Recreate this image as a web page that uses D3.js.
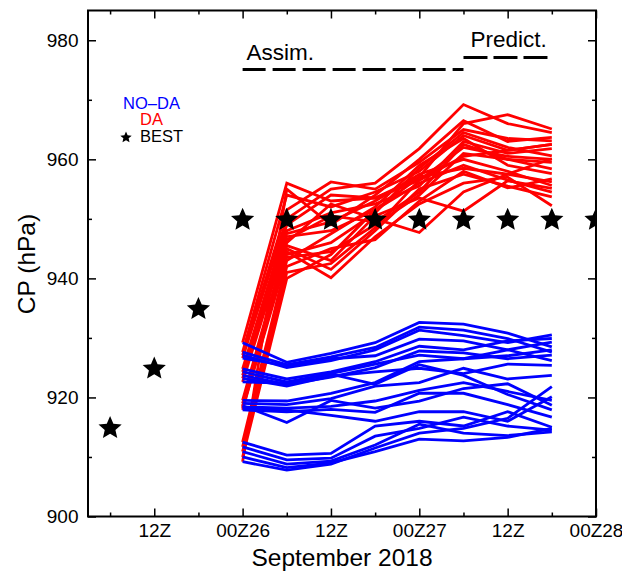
<!DOCTYPE html>
<html><head><meta charset="utf-8">
<script src="https://cdn.jsdelivr.net/npm/d3@7"></script>
<style>body{margin:0;background:#fff} text{font-family:"Liberation Sans",Arial,Helvetica,sans-serif}</style>
</head><body><svg id="c" width="622" height="571"></svg>
<script>
// hours since 2018-09-25 00Z
const bestHours  = [6,12,18,24,30,36,42,48,54,60,66,72];
const bestValues = [915,925,935,950,950,950,950,950,950,950,950,950];
const memberHours = [24,30,36,42,48,54,60,66];
const noDA = [
 [929.2,925.9,927.4,929.2,932.6,932.3,930.8,928.5],
 [927.6,925.5,926.8,928.4,931.8,931.3,929.9,927.6],
 [927.1,925.0,926.2,928.0,931.3,930.4,929.2,930.5],
 [926.6,925.3,926.5,927.0,929.8,929.5,928.0,926.2],
 [924.8,923.1,924.3,926.0,928.6,928.0,929.5,929.9],
 [924.3,922.6,924.0,925.6,927.1,926.5,928.0,929.3],
 [923.7,922.2,923.4,925.0,927.8,927.5,926.5,927.1],
 [923.2,921.9,923.6,924.3,924.9,924.0,925.6,925.4],
 [922.6,922.4,923.9,922.2,925.5,923.7,920.5,917.9],
 [919.5,919.4,920.7,922.5,926.0,926.5,927.0,928.0],
 [919.0,918.8,919.8,921.9,922.5,924.9,923.1,923.7],
 [918.4,918.2,918.5,919.4,921.2,922.5,921.0,919.5],
 [917.9,917.6,918.0,917.5,920.7,920.7,918.8,916.7],
 [918.6,915.8,919.5,918.2,919.4,921.5,922.3,918.7],
 [918.2,917.9,917.0,916.0,917.6,917.6,916.0,920.1],
 [912.5,910.3,910.6,915.2,916.0,915.2,917.6,915.0],
 [911.7,909.5,909.8,913.5,914.8,916.7,915.2,914.5],
 [910.9,908.8,909.3,912.0,915.5,914.0,913.6,914.2],
 [910.0,908.2,909.0,910.9,913.0,912.7,913.3,914.8],
 [909.2,907.8,908.8,911.5,914.0,914.8,916.5,921.8]
];
const DA = [
 [929.2,956.0,953.0,953.5,956.5,962.0,960.5,960.0],
 [927.6,954.0,952.0,954.5,958.0,964.0,961.5,962.5],
 [927.1,951.5,956.2,955.0,959.5,965.0,963.5,963.1],
 [926.6,950.0,955.0,956.0,961.8,969.2,966.0,964.5],
 [924.8,949.0,954.0,953.5,957.0,966.0,967.5,965.1],
 [924.3,948.0,951.0,952.5,955.5,963.0,961.0,961.8],
 [923.7,947.5,949.5,953.0,957.5,960.0,958.0,955.6],
 [923.2,947.0,948.0,951.5,956.0,959.0,956.5,954.5],
 [922.6,946.5,950.5,949.5,954.5,962.5,960.0,958.4],
 [919.5,946.0,952.5,950.0,947.7,954.5,957.5,956.2],
 [919.0,945.5,943.0,950.5,953.5,951.3,956.4,955.1],
 [918.4,945.0,941.5,948.0,955.0,957.5,955.5,953.7],
 [917.9,944.5,940.1,947.0,952.5,956.0,957.0,952.2],
 [918.6,944.0,946.0,951.0,958.5,964.5,962.0,960.6],
 [918.2,943.5,944.5,949.0,954.0,961.0,960.0,959.5],
 [912.5,943.0,947.5,952.0,959.0,963.5,959.0,957.6],
 [911.7,942.0,945.0,946.5,953.0,958.0,955.2,956.7],
 [910.9,941.0,942.5,948.5,956.5,960.5,961.5,962.5],
 [910.0,940.0,944.0,951.5,957.0,958.5,957.5,960.1],
 [909.2,955.0,949.0,954.0,960.0,966.5,963.0,963.7]
];
const yTicks = [900,920,940,960,980];
const yMinor = [910,930,950,970];
const phases = [{label:"Assim.", from:24, to:54}, {label:"Predict.", from:54, to:66}];
const legendItems = ["NO\u2013DA","DA","BEST"];

const toDate = h => new Date(Date.UTC(2018,8,25) + h*3600e3);
const L=88, R=596, T=10.5, B=516.5;
const svg = d3.select("#c");
const x = d3.scaleUtc().domain([toDate(3), toDate(72)]).range([L,R]);
const y = d3.scaleLinear().domain([900,985]).range([B,T]);

const major = d3.utcHour.every(12).range(toDate(3), toDate(72.01));
const minor = d3.utcHour.every(6).range(toDate(3), toDate(72.01)).filter(d=>d.getUTCHours()%12!==0);
const fmt = d => d.getUTCHours()===0 ? "00Z"+d.getUTCDate() : "12Z";

function styleAxis(g){ g.select(".domain").remove(); g.selectAll("line").attr("stroke","#000").attr("stroke-width",1.5);
  g.selectAll("text").attr("fill","#000").style("font-size","19px").style("font-family",'"Liberation Sans",Arial,sans-serif'); }

svg.append("g").attr("transform",`translate(0,${B})`).call(d3.axisBottom(x).tickValues(major).tickSize(-8).tickPadding(7).tickFormat(fmt)).call(styleAxis);
svg.append("g").attr("transform",`translate(0,${B})`).call(d3.axisBottom(x).tickValues(minor).tickSize(-4).tickFormat("")).call(styleAxis);
svg.append("g").attr("transform",`translate(0,${T})`).call(d3.axisTop(x).tickValues(major).tickSize(-8).tickFormat("")).call(styleAxis);
svg.append("g").attr("transform",`translate(0,${T})`).call(d3.axisTop(x).tickValues(minor).tickSize(-4).tickFormat("")).call(styleAxis);
svg.append("g").attr("transform",`translate(${L},0)`).call(d3.axisLeft(y).tickValues(yTicks).tickSize(-8).tickPadding(9.5).tickFormat(d3.format("d"))).call(styleAxis);
svg.append("g").attr("transform",`translate(${L},0)`).call(d3.axisLeft(y).tickValues(yMinor).tickSize(-4).tickFormat("")).call(styleAxis);
svg.append("g").attr("transform",`translate(${R},0)`).call(d3.axisRight(y).tickValues(yTicks).tickSize(-8).tickFormat("")).call(styleAxis);
svg.append("g").attr("transform",`translate(${R},0)`).call(d3.axisRight(y).tickValues(yMinor).tickSize(-4).tickFormat("")).call(styleAxis);

svg.append("clipPath").attr("id","clip").append("rect").attr("x",L).attr("y",T).attr("width",R-L).attr("height",B-T);

const line = d3.line().x((d,i)=>x(toDate(memberHours[i]))).y(d=>y(d));
const plot = svg.append("g").attr("clip-path","url(#clip)");
plot.selectAll(".da").data(DA).join("path").attr("d",line).attr("fill","none").attr("stroke","#ff0000").attr("stroke-width",2.8);
plot.selectAll(".nd").data(noDA).join("path").attr("d",line).attr("fill","none").attr("stroke","#0000ff").attr("stroke-width",2.8);

// fat five-pointed star symbol (size = outer radius squared)
const fatStar = {draw(ctx, size){ const r=Math.sqrt(size), ri=r*0.46;
  for(let k=0;k<10;k++){ const a=-Math.PI/2+k*Math.PI/5, rr=k%2?ri:r;
    const px=rr*Math.cos(a), py=rr*Math.sin(a); k?ctx.lineTo(px,py):ctx.moveTo(px,py);} ctx.closePath(); }};
const star = d3.symbol().type(fatStar).size(12.2*12.2);
plot.selectAll(".st").data(bestHours).join("path").attr("d",star)
  .attr("transform",(h,i)=>`translate(${x(toDate(h))},${y(bestValues[i])+1})`).attr("fill","#000");

svg.append("rect").attr("x",L).attr("y",T).attr("width",R-L).attr("height",B-T).attr("fill","none").attr("stroke","#000").attr("stroke-width",2);

// phase annotations
const ph = svg.append("g");
ph.append("line").attr("x1",x(toDate(phases[0].from))).attr("x2",x(toDate(phases[0].to))).attr("y1",69.5).attr("y2",69.5)
  .attr("stroke","#000").attr("stroke-width",3).attr("stroke-dasharray","23,7");
ph.append("text").attr("x",x(toDate(phases[0].from))+4).attr("y",60).text(phases[0].label).style("font-size","22.5px");
ph.append("line").attr("x1",x(toDate(phases[1].from))).attr("x2",x(toDate(phases[1].to))).attr("y1",57.5).attr("y2",57.5)
  .attr("stroke","#000").attr("stroke-width",3).attr("stroke-dasharray","24,6");
ph.append("text").attr("x",x(toDate(phases[1].from))+7).attr("y",47).text(phases[1].label).style("font-size","22.5px");

// legend
const lg = svg.append("g").style("font-size","16.5px");
lg.append("text").attr("x",151.5).attr("y",108.5).attr("text-anchor","middle").attr("fill","#0000ff").text(legendItems[0]);
lg.append("text").attr("x",151.5).attr("y",125).attr("text-anchor","middle").attr("fill","#ff0000").text(legendItems[1]);
lg.append("path").attr("d",d3.symbol().type(fatStar).size(6*6)).attr("transform","translate(126,137.5)").attr("fill","#000");
lg.append("text").attr("x",140).attr("y",141.7).attr("fill","#000").text(legendItems[2]);

// titles
svg.append("text").attr("x",(L+R)/2).attr("y",566).attr("text-anchor","middle").style("font-size","24.5px").text("September 2018");
svg.append("text").attr("transform",`translate(35,${264}) rotate(-90)`).attr("text-anchor","middle").style("font-size","24.5px").text("CP (hPa)");
</script></body></html>
